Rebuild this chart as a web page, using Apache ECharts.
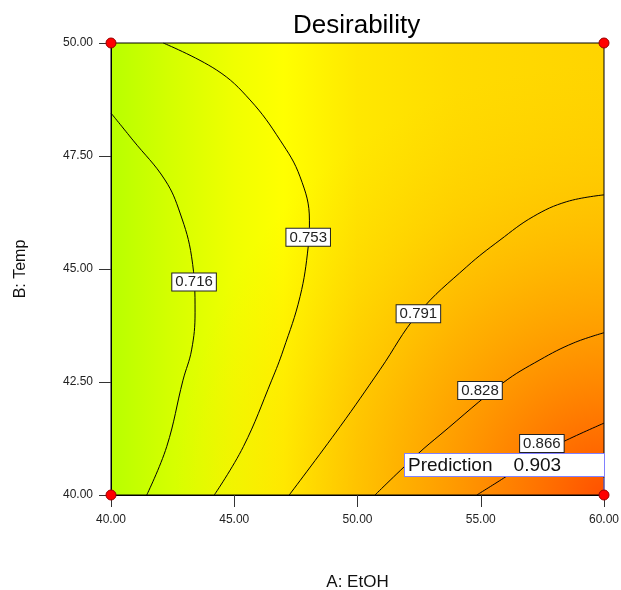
<!DOCTYPE html>
<html>
<head>
	<meta charset="utf-8">
	<script src="https://cdn.jsdelivr.net/npm/echarts@6/dist/echarts.min.js"></script>
</head>
<body style="margin:0">
	<div id="main" style="width: 621px; height: 590px;"></div>
<script type="text/javascript">
// contour lines, [EtOH, Temp]
var c716 = [[40, 48.45], [40.89, 47.85], [42.19, 46.97], [42.8, 46.24], [43.27, 45.27], [43.41, 44.03], [43.27, 43.21], [42.92, 42.54], [42.26, 41.07], [41.45, 40]];
var c753 = [[42.12, 50], [44.29, 49.4], [45.64, 48.74], [46.86, 47.85], [47.67, 47.04], [48.05, 46.08], [48.0, 45.49], [47.67, 44.39], [46.99, 43.21], [46.52, 42.54], [45.37, 41.07], [44.19, 40]];
var c791 = [[47.23, 40], [49.29, 41.51], [50.91, 42.77], [52.47, 44.02], [54.43, 45.05], [55.78, 45.64], [57.13, 46.16], [58.49, 46.49], [60, 46.64]];
var c828 = [[50.71, 40], [52.47, 40.92], [53.35, 41.33], [55.9, 42.48], [57.4, 42.99], [58.75, 43.36], [60, 43.59]];
var c866 = [[54.84, 40], [55.92, 40.37], [57.47, 40.92], [58.35, 41.18], [60, 41.59]];
var contours = [c716, c753, c791, c828, c866];

// label boxes on the contours
var levelNames = ['0.716', '0.753', '0.791', '0.828', '0.866'];
var levelPos = [[43.37, 44.71], [48.0, 45.7], [52.47, 44.01], [54.97, 42.31], [57.48, 41.14]];

// design points and the prediction
var designPts = [[40, 50], [60, 50], [40, 40], [60, 40]];
var predPoint = [60, 40];
var predValue = '0.903';

var xTicks = [40, 60, 5];
var yTicks = [40, 50, 2.5];

var myChart = echarts.init(document.getElementById('main'));

var series = [];
for (var i = 0; i < contours.length; i++) {
	series.push({
		type: 'line',
		data: contours[i],
		smooth: 0.4,
		symbol: 'none',
		lineStyle: { color: '#000', width: 1 },
		z: 3
	});
}
series.push({
	type: 'scatter',
	data: levelPos.map(function (p, i) { return { value: p, name: levelNames[i] }; }),
	symbolSize: 0,
	itemStyle: { opacity: 1 },
	label: {
		show: true,
		position: 'inside',
		formatter: '{b}',
		fontSize: 15,
		fontFamily: 'Liberation Sans, Arial',
		color: '#222',
		backgroundColor: '#fff',
		borderColor: '#222',
		borderWidth: 1,
		padding: [1, 3, 0, 3],
		lineHeight: 16
	},
	z: 5
});
// leader from prediction box to the point
series.push({
	type: 'line',
	data: [predPoint, [predPoint[0], predPoint[1] + 0.38]],
	symbol: 'none',
	lineStyle: { color: '#8080ff', width: 1 },
	clip: false,
	z: 6
});
series.push({
	type: 'scatter',
	data: designPts,
	symbolSize: 10,
	clip: false,
	itemStyle: { color: '#ff0000', borderColor: '#900', borderWidth: 1, opacity: 1 },
	z: 7
});
series.push({
	type: 'scatter',
	data: [predPoint],
	symbolSize: 10,
	clip: false,
	itemStyle: { color: 'rgba(0,0,0,0)', opacity: 1 },
	label: {
		show: true,
		position: [-194, -36],
		formatter: 'Prediction    ' + predValue,
		fontSize: 19,
		fontFamily: 'Liberation Sans, Arial',
		color: '#111',
		backgroundColor: '#fff',
		borderColor: '#8080ff',
		borderWidth: 1,
		width: 192,
		lineHeight: 21,
		padding: [1, 4, 0, 3]
	},
	z: 8
});

var option = {
	animation: false,
	backgroundColor: '#fff',
	title: {
		text: 'Desirability',
		left: 293,
		top: 13,
		padding: 0,
		textStyle: { fontSize: 26, fontWeight: 'normal', color: '#000', fontFamily: 'Liberation Sans, Arial' }
	},
	graphic: [{
		type: 'rect',
		left: 111,
		top: 43,
		silent: true,
		z: -1,
		shape: { width: 493, height: 452 },
		style: {
			fill: {
				type: 'linear', x: 0, y: 0, x2: 1, y2: 0,
				colorStops: [
					{ offset: 0, color: '#b8ff00' },
					{ offset: 0.12, color: '#d4ff00' },
					{ offset: 0.25, color: '#f0ff00' },
					{ offset: 0.35, color: '#ffff00' },
					{ offset: 0.5, color: '#ffe800' },
					{ offset: 0.7, color: '#ffdc00' },
					{ offset: 1, color: '#ffd400' }
				]
			}
		}
	}],
	grid: {
		left: 111,
		top: 43,
		width: 493,
		height: 452,
		outerBoundsMode: 'none',
		containLabel: false,
		show: true,
		borderColor: '#000',
		borderWidth: 1,
		backgroundColor: {
			type: 'radial', x: 1, y: 1, r: 0.95,
			colorStops: [
				{ offset: 0, color: 'rgba(255,80,0,1)' },
				{ offset: 0.25, color: 'rgba(255,120,0,0.85)' },
				{ offset: 0.5, color: 'rgba(255,150,0,0.6)' },
				{ offset: 0.75, color: 'rgba(255,180,0,0.3)' },
				{ offset: 1, color: 'rgba(255,200,0,0)' }
			]
		}
	},
	xAxis: {
		type: 'value',
		min: xTicks[0],
		max: xTicks[1],
		interval: xTicks[2],
		name: 'A: EtOH',
		nameLocation: 'middle',
		nameGap: 79,
		nameTextStyle: { fontSize: 17, color: '#111', fontFamily: 'Liberation Sans, Arial' },
		axisLine: { lineStyle: { color: '#000' } },
		axisTick: { length: 12, lineStyle: { color: '#333' } },
		axisLabel: {
			margin: 19,
			fontSize: 12,
			color: '#222',
			fontFamily: 'Liberation Sans, Arial',
			formatter: function (v) { return v.toFixed(2); }
		},
		splitLine: { show: false }
	},
	yAxis: {
		type: 'value',
		min: yTicks[0],
		max: yTicks[1],
		interval: yTicks[2],
		name: 'B: Temp',
		nameLocation: 'middle',
		nameRotate: 90,
		nameGap: 82,
		nameTextStyle: { fontSize: 16, color: '#111', fontFamily: 'Liberation Sans, Arial' },
		axisLine: { lineStyle: { color: '#000' } },
		axisTick: { length: 12, lineStyle: { color: '#333' } },
		axisLabel: {
			margin: 18,
			fontSize: 12,
			color: '#222',
			fontFamily: 'Liberation Sans, Arial',
			formatter: function (v) { return v.toFixed(2); }
		},
		splitLine: { show: false }
	},
	series: series
};

myChart.setOption(option);
</script>
</body>
</html>
